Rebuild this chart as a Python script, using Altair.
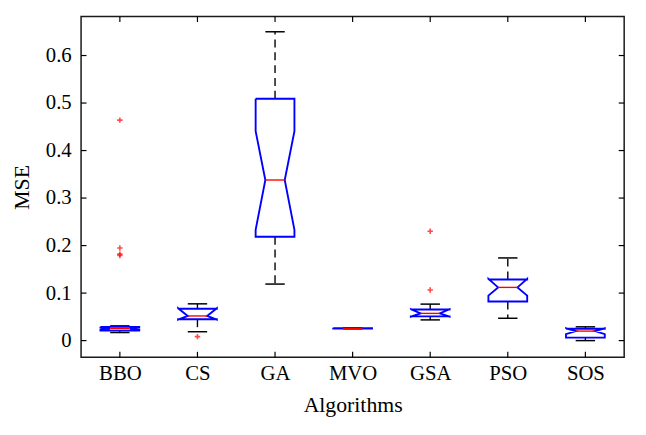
import json
import altair as alt
import pandas as pd

# ---- data ----
algorithms = ["BBO", "CS", "GA", "MVO", "GSA", "PSO", "SOS"]
whisker_lo = [0.017, 0.0187, 0.119, 0.0250, 0.0436, 0.047, 0.000]
q1 = [0.021, 0.0449, 0.2186, 0.0252, 0.0511, 0.0822, 0.0062]
notch_lo = [0.023, 0.044, 0.233, 0.0253, 0.0505, 0.0947, 0.0137]
median = [0.0255, 0.0519, 0.338, 0.0256, 0.0573, 0.112, 0.020]
notch_hi = [0.028, 0.068, 0.441, 0.0259, 0.066, 0.130, 0.026]
q3 = [0.029, 0.0671, 0.509, 0.0260, 0.0656, 0.1287, 0.025]
whisker_hi = [0.031, 0.0774, 0.650, 0.0265, 0.0768, 0.174, 0.029]
outlier_alg = ["BBO", "BBO", "BBO", "BBO", "CS", "GSA", "GSA"]
outlier_val = [0.464, 0.195, 0.182, 0.179, 0.0083, 0.1065, 0.230]
y_ticks = [0, 0.1, 0.2, 0.3, 0.4, 0.5, 0.6]

# ---- style ----
W = 550
H = 345
BOX_HALF = 0.25      # half box width in category units
FONT = "Liberation Serif"
TICK = 5.5

pos = {a: i + 1 for i, a in enumerate(algorithms)}

# notched box outlines
rows = []
for i, a in enumerate(algorithms):
    c = i + 1
    w = BOX_HALF
    pts = [(-w, q3[i]), (-w, notch_hi[i]), (-w / 2, median[i]), (-w, notch_lo[i]),
           (-w, q1[i]), (w, q1[i]), (w, notch_lo[i]), (w / 2, median[i]),
           (w, notch_hi[i]), (w, q3[i]), (-w, q3[i])]
    for k, (dx, yv) in enumerate(pts):
        rows.append({"alg": a, "k": k, "x": c + dx, "y": yv})
box_df = pd.DataFrame(rows)

stats = pd.DataFrame({
    "alg": algorithms,
    "c": [pos[a] for a in algorithms],
    "lo": [pos[a] - BOX_HALF / 2 for a in algorithms],
    "hi": [pos[a] + BOX_HALF / 2 for a in algorithms],
    "wlo": whisker_lo, "q1": q1, "med": median, "q3": q3, "whi": whisker_hi,
})
out_df = pd.DataFrame({"c": [pos[a] for a in outlier_alg], "v": outlier_val})
yt_df = pd.DataFrame({"t": y_ticks})
xt_df = pd.DataFrame({"t": [pos[a] for a in algorithms]})

xs = alt.Scale(domain=[0.5, 7.5], nice=False, zero=False)
ys = alt.Scale(domain=[-0.035, 0.682], nice=False, zero=False)
label_expr = json.dumps(algorithms) + "[datum.value - 1]"
xaxis = alt.Axis(values=list(range(1, len(algorithms) + 1)), labelExpr=label_expr,
                 labelPadding=6, titlePadding=11)
yaxis = alt.Axis(values=y_ticks, format=".1~f", labelPadding=10, titlePadding=12)


def X(f):
    return alt.X(f, type="quantitative", scale=xs, axis=xaxis, title="Algorithms")


def Y(f):
    return alt.Y(f, type="quantitative", scale=ys, axis=yaxis, title="MSE")


base_s = alt.Chart(stats)

whisk_up = base_s.mark_rule(color="black", strokeWidth=1.4, strokeDash=[8, 5]).encode(
    x=X("c"), y=Y("q3"), y2="whi")
whisk_dn = base_s.mark_rule(color="black", strokeWidth=1.4, strokeDash=[8, 5]).encode(
    x=X("c"), y=Y("q1"), y2="wlo")
cap_up = base_s.mark_rule(color="black", strokeWidth=1.5).encode(
    x=X("lo"), x2="hi", y=Y("whi"))
cap_dn = base_s.mark_rule(color="black", strokeWidth=1.5).encode(
    x=X("lo"), x2="hi", y=Y("wlo"))

boxes = alt.Chart(box_df).mark_line(color="#0000ff", strokeWidth=1.9).encode(
    x=X("x"), y=Y("y"), detail="alg:N", order="k:Q")

med = base_s.mark_rule(color="#ff0000", strokeWidth=1.4).encode(
    x=X("lo"), x2="hi", y=Y("med"))

outs = alt.Chart(out_df).mark_point(
    shape="M-1,0L1,0M0,-1L0,1", size=30, filled=False, color="#ff0000", strokeWidth=1.6
).encode(x=X("c"), y=Y("v"))

# inward ticks on all four sides (MATLAB style)
yt_left = alt.Chart(yt_df).mark_rule(color="black", strokeWidth=1.2).encode(
    y=Y("t"), x=alt.value(0), x2=alt.value(TICK))
yt_right = alt.Chart(yt_df).mark_rule(color="black", strokeWidth=1.2).encode(
    y=Y("t"), x=alt.value(W - TICK), x2=alt.value(W))
xt_bot = alt.Chart(xt_df).mark_rule(color="black", strokeWidth=1.2).encode(
    x=X("t"), y=alt.value(H - TICK), y2=alt.value(H))
xt_top = alt.Chart(xt_df).mark_rule(color="black", strokeWidth=1.2).encode(
    x=X("t"), y=alt.value(0), y2=alt.value(TICK))

chart = alt.layer(
    yt_left, yt_right, xt_bot, xt_top,
    whisk_up, whisk_dn, cap_up, cap_dn, boxes, med, outs
).properties(
    width=W, height=H,
    autosize=alt.AutoSizeParams(type="none"),
    padding={"left": 74, "top": 6, "right": 14, "bottom": 70},
).configure_view(
    stroke="#1a1a1a", strokeWidth=1.5
).configure_axis(
    domain=False, ticks=False, grid=False,
    labelFont=FONT, labelFontSize=21, labelColor="black",
    titleFont=FONT, titleFontSize=22, titleColor="black", titleFontWeight="normal",
)

chart.save("out.html", embed_options={"renderer": "svg", "actions": False})
